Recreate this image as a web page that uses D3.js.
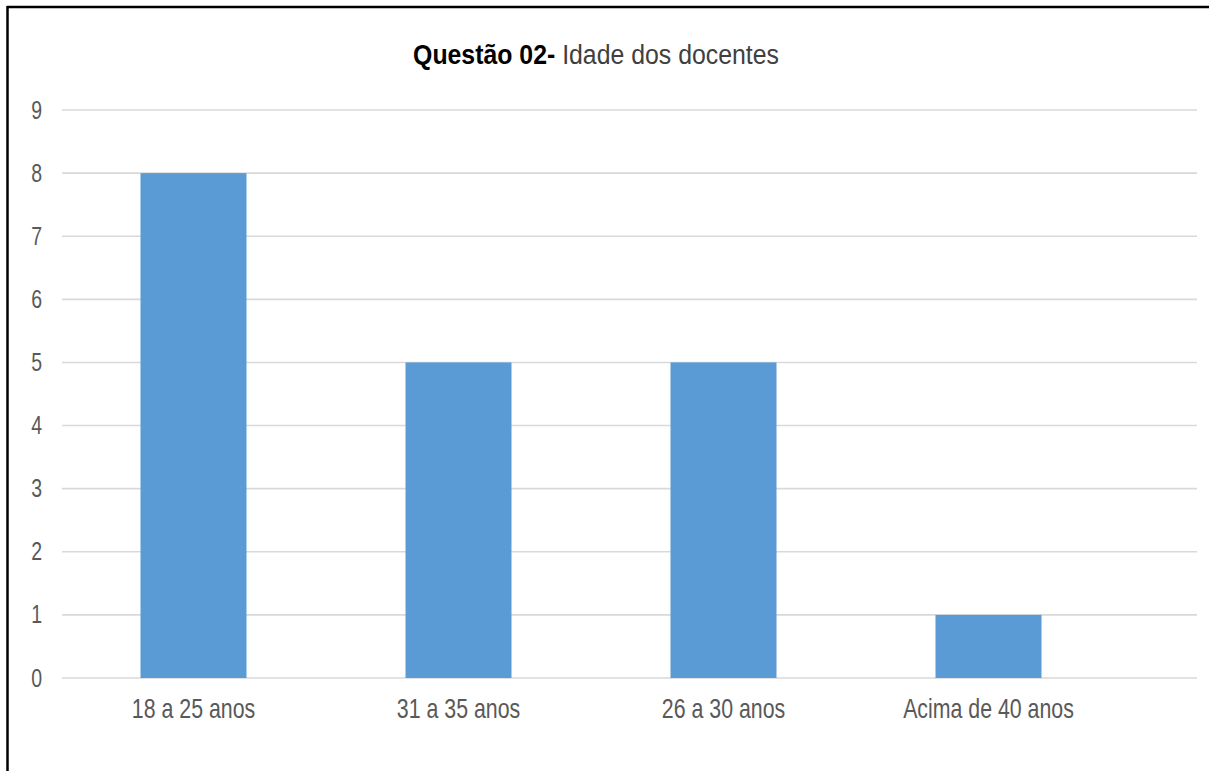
<!DOCTYPE html>
<html>
<head>
<meta charset="utf-8">
<script src="https://cdn.jsdelivr.net/npm/d3@7"></script>
<style>
  body { margin: 0; background: #fff; }
  text { font-family: "Liberation Sans", Arial, sans-serif; }
</style>
</head>
<body>
<div id="chart"></div>
<script>
var categories = ["18 a 25 anos", "31 a 35 anos", "26 a 30 anos", "Acima de 40 anos"];
var values = [8, 5, 5, 1];
var yTicks = [0, 1, 2, 3, 4, 5, 6, 7, 8, 9];

var width = 1209,
    height = 771;

var svg = d3.select("#chart").append("svg")
    .attr("width", width)
    .attr("height", height);

// frame (only top and left edges are visible in the crop)
svg.append("line").attr("x1", 7).attr("x2", width).attr("y1", 7).attr("y2", 7)
    .attr("stroke", "#000").attr("stroke-width", 2.5);
svg.append("line").attr("x1", 7.5).attr("x2", 7.5).attr("y1", 6).attr("y2", height)
    .attr("stroke", "#000").attr("stroke-width", 2.5);

var x = d3.scaleBand()
    .domain(categories)
    .range([61, 1121])
    .paddingInner(0.6)
    .paddingOuter(0.3);

var y = d3.scaleLinear()
    .domain([0, 9])
    .range([678, 110]);

// gridlines
svg.append("g").selectAll("line")
    .data(yTicks)
    .enter().append("line")
    .attr("x1", 62)
    .attr("x2", 1197)
    .attr("y1", function (d) { return y(d); })
    .attr("y2", function (d) { return y(d); })
    .attr("stroke", "#d9d9d9")
    .attr("stroke-width", 1.6);

// y tick labels
svg.append("g").selectAll("text")
    .data(yTicks)
    .enter().append("text")
    .attr("transform", function (d) { return "translate(42," + (y(d) + 8.5) + ") scale(0.78,1)"; })
    .attr("text-anchor", "end")
    .attr("font-size", 25)
    .attr("fill", "#595959")
    .text(function (d) { return d; });

// bars
svg.append("g").selectAll("rect")
    .data(values)
    .enter().append("rect")
    .attr("x", function (d, i) { return x(categories[i]); })
    .attr("width", x.bandwidth())
    .attr("y", function (d) { return y(d); })
    .attr("height", function (d) { return y(0) - y(d); })
    .attr("fill", "#5b9bd5");

// x labels
svg.append("g").selectAll("text")
    .data(categories)
    .enter().append("text")
    .attr("transform", function (d) { return "translate(" + (x(d) + x.bandwidth() / 2) + ",718) scale(0.79,1)"; })
    .attr("text-anchor", "middle")
    .attr("font-size", 27)
    .attr("fill", "#595959")
    .text(function (d) { return d; });

// title
var title = svg.append("text")
    .attr("transform", "translate(596,64) scale(0.92,1)")
    .attr("text-anchor", "middle")
    .attr("font-size", 27)
    .attr("fill", "#000");
title.append("tspan").attr("font-weight", "bold").text("Questão 02-");
title.append("tspan").attr("fill", "#404040").text(" Idade dos docentes");
</script>
</body>
</html>
